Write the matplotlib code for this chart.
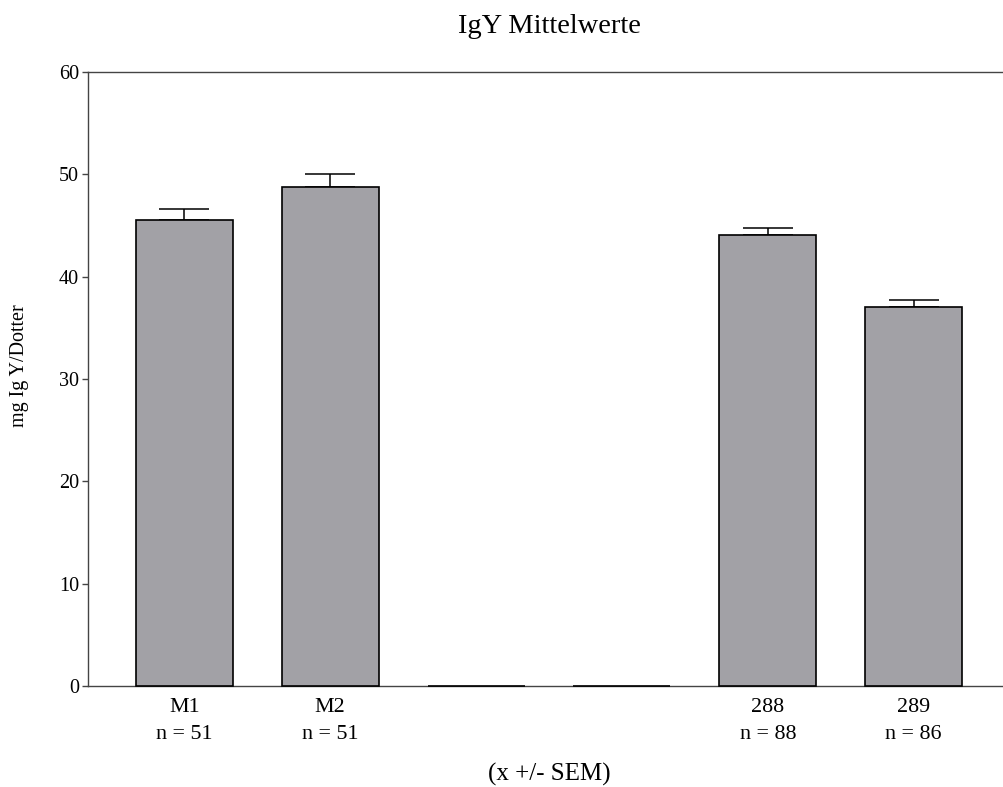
import matplotlib
matplotlib.use("Agg")
import matplotlib.pyplot as plt

categories = ["M1", "M2", "", "", "288", "289"]
n_labels = ["n = 51", "n = 51", "", "", "n = 88", "n = 86"]
means = [45.5, 48.8, 0.0, 0.0, 44.05, 37.05]
upper_err = [1.1, 1.2, 0.0, 0.0, 0.7, 0.7]
yticks = [0, 10, 20, 30, 40, 50, 60]

plt.rcParams['font.family'] = ['Liberation Serif', 'DejaVu Serif']

W, H = 1004, 787
fig = plt.figure(figsize=(W / 100, H / 100), dpi=100)
ax = fig.add_axes([88 / W, 1 - 686 / H, (1010 - 88) / W, (686 - 72) / H])

x = list(range(len(categories)))
ax.bar(x, means, width=0.665, color="#a2a1a6", edgecolor="black",
       linewidth=1.2, zorder=3, clip_on=False)
err_x = [xi for xi, e in zip(x, upper_err) if e > 0]
err_y = [m for m, e in zip(means, upper_err) if e > 0]
err_u = [e for e in upper_err if e > 0]
ax.errorbar(err_x, err_y, yerr=[[0] * len(err_u), err_u], fmt="none",
            ecolor="black", elinewidth=1.1, capsize=18, capthick=1.1, zorder=2)

ax.set_xlim(-0.66, 5.66)
ax.set_ylim(0, 60)
ax.set_yticks(yticks)
ax.set_yticklabels([str(v) for v in yticks], fontsize=14.5)
ax.set_xticks(x)
ax.set_xticklabels([f"{c}\n{n}" if c else "" for c, n in zip(categories, n_labels)],
                   fontsize=15.8, linespacing=1.62)
ax.tick_params(axis="x", length=0, pad=8.5)
ax.tick_params(axis="y", length=4.5, width=1.0, color="#444444", pad=2)
for s in ax.spines.values():
    s.set_color("#444444")
    s.set_linewidth(1.0)

fig.text(549 / W, 1 - 33 / H, "IgY Mittelwerte", ha="center", va="baseline", fontsize=20.5)
fig.text(20 / W, 1 - 365.5 / H, "mg Ig Y/Dotter", rotation=90, ha="center", va="center", fontsize=14.5)
fig.text(549 / W, 1 - 781 / H, "(x +/- SEM)", ha="center", va="baseline", fontsize=18)

fig.savefig("out.png", dpi=100)
